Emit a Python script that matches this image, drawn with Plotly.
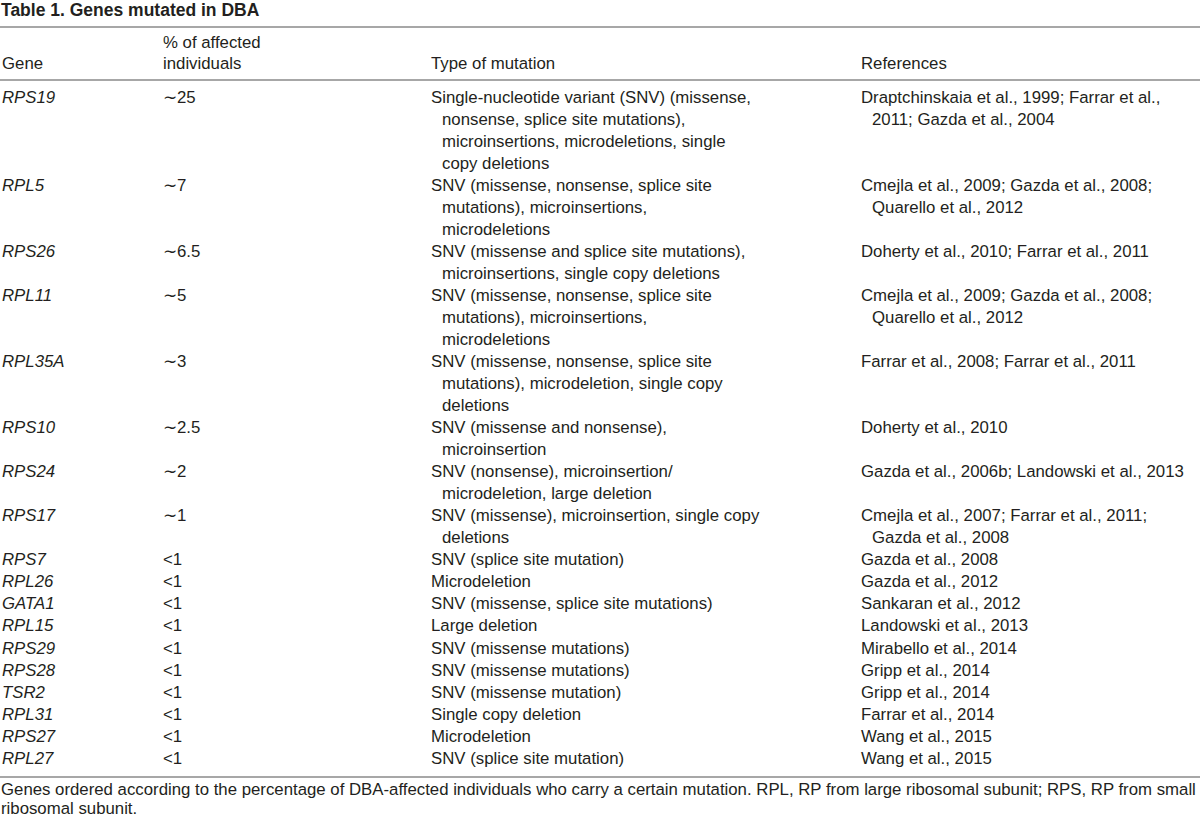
import plotly.graph_objects as go

title = "Table 1. Genes mutated in DBA"
headers = ["Gene", "% of affected<br>individuals", "Type of mutation", "References"]

genes = ["RPS19", "RPL5", "RPS26", "RPL11", "RPL35A", "RPS10", "RPS24", "RPS17",
         "RPS7", "RPL26", "GATA1", "RPL15", "RPS29", "RPS28", "TSR2", "RPL31",
         "RPS27", "RPL27"]

percent_affected = ["∼25", "∼7", "∼6.5", "∼5", "∼3", "∼2.5", "∼2", "∼1",
                    "<1", "<1", "<1", "<1", "<1", "<1", "<1", "<1", "<1", "<1"]

mutation_types = [
    ["Single-nucleotide variant (SNV) (missense,", "nonsense, splice site mutations),",
     "microinsertions, microdeletions, single", "copy deletions"],
    ["SNV (missense, nonsense, splice site", "mutations), microinsertions,", "microdeletions"],
    ["SNV (missense and splice site mutations),", "microinsertions, single copy deletions"],
    ["SNV (missense, nonsense, splice site", "mutations), microinsertions,", "microdeletions"],
    ["SNV (missense, nonsense, splice site", "mutations), microdeletion, single copy", "deletions"],
    ["SNV (missense and nonsense),", "microinsertion"],
    ["SNV (nonsense), microinsertion/", "microdeletion, large deletion"],
    ["SNV (missense), microinsertion, single copy", "deletions"],
    ["SNV (splice site mutation)"],
    ["Microdeletion"],
    ["SNV (missense, splice site mutations)"],
    ["Large deletion"],
    ["SNV (missense mutations)"],
    ["SNV (missense mutations)"],
    ["SNV (missense mutation)"],
    ["Single copy deletion"],
    ["Microdeletion"],
    ["SNV (splice site mutation)"],
]

references = [
    ["Draptchinskaia et al., 1999; Farrar et al.,", "2011; Gazda et al., 2004"],
    ["Cmejla et al., 2009; Gazda et al., 2008;", "Quarello et al., 2012"],
    ["Doherty et al., 2010; Farrar et al., 2011"],
    ["Cmejla et al., 2009; Gazda et al., 2008;", "Quarello et al., 2012"],
    ["Farrar et al., 2008; Farrar et al., 2011"],
    ["Doherty et al., 2010"],
    ["Gazda et al., 2006b; Landowski et al., 2013"],
    ["Cmejla et al., 2007; Farrar et al., 2011;", "Gazda et al., 2008"],
    ["Gazda et al., 2008"],
    ["Gazda et al., 2012"],
    ["Sankaran et al., 2012"],
    ["Landowski et al., 2013"],
    ["Mirabello et al., 2014"],
    ["Gripp et al., 2014"],
    ["Gripp et al., 2014"],
    ["Farrar et al., 2014"],
    ["Wang et al., 2015"],
    ["Wang et al., 2015"],
]

footnote = ["Genes ordered according to the percentage of DBA-affected individuals who carry a certain mutation. "
            "RPL, RP from large ribosomal subunit; RPS, RP from small",
            "ribosomal subunit."]

# layout constants
W, H = 1200, 819
FONT = "Liberation Sans, Arial, sans-serif"
FS = 16.8
TXT = "#231f20"
LINE = "#8a8a8a"
col_x = [1, 162, 430, 860]
indent = 11
first_y = 97
step = 22.04

fig = go.Figure()
fig.add_trace(go.Scatter(x=[0, W], y=[0, H], mode="markers", marker=dict(opacity=0),
                         hoverinfo="skip", showlegend=False))

ann = []

def add(x, y, text, size=FS, bold=False):
    if bold:
        text = "<b>" + text + "</b>"
    ann.append(dict(x=x, y=y, xref="x", yref="y", text=text, showarrow=False,
                    xanchor="left", yanchor="middle", align="left", borderpad=0,
                    font=dict(family=FONT, size=size, color=TXT)))

add(0, 10, title, size=17.5, bold=True)

# header
add(col_x[0], 63, headers[0])
add(col_x[1], 42, headers[1].split("<br>")[0])
add(col_x[1], 63, headers[1].split("<br>")[1])
add(col_x[2], 63, headers[2])
add(col_x[3], 63, headers[3])

line_idx = 0
for g, p, m, r in zip(genes, percent_affected, mutation_types, references):
    y0 = first_y + line_idx * step
    add(col_x[0], y0, "<i>" + g + "</i>")
    add(col_x[1], y0, p)
    for k, t in enumerate(m):
        add(col_x[2] + (indent if k else 0), y0 + k * step, t)
    for k, t in enumerate(r):
        add(col_x[3] + (indent if k else 0), y0 + k * step, t)
    line_idx += max(len(m), len(r))

add(0, 789, footnote[0])
add(0, 808.5, footnote[1])

shapes = []
for yl in [27, 80, 777]:
    shapes.append(dict(type="line", xref="x", yref="y", x0=0, x1=W, y0=yl, y1=yl,
                       line=dict(color=LINE, width=1.5)))

fig.update_layout(
    width=W, height=H, margin=dict(l=0, r=0, t=0, b=0),
    paper_bgcolor="white", plot_bgcolor="white",
    xaxis=dict(range=[0, W], visible=False, fixedrange=True),
    yaxis=dict(range=[H, 0], visible=False, fixedrange=True),
    annotations=ann, shapes=shapes, showlegend=False,
)

fig.write_html("out.html", config={"displayModeBar": False},
               post_script="document.body.style.margin='0';document.body.style.overflow='hidden';")
